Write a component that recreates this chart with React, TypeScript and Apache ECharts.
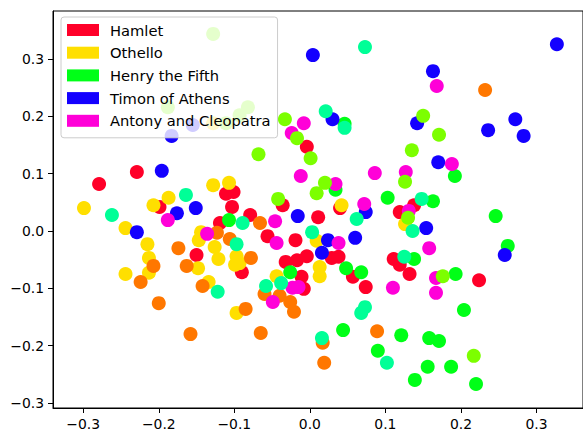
import React, { useEffect, useRef } from "react";
import * as echarts from "echarts";

// [x, y] data values
const hamlet: number[][] = [
  [-0.279, 0.082], [-0.229, 0.103], [-0.199, 0.042], [-0.111, 0.065], [-0.101, 0.068],
  [-0.103, 0.042], [-0.079, 0.028], [-0.119, 0.014], [-0.15, -0.042], [-0.09, -0.072],
  [-0.056, -0.009], [-0.019, -0.016], [-0.036, 0.045], [-0.004, 0.147], [0.011, 0.024],
  [0.04, 0.04], [-0.032, -0.054], [-0.017, -0.051], [-0.004, -0.044], [0.029, -0.047],
  [0.038, -0.045], [-0.011, -0.08], [0.057, -0.08], [0.074, -0.098], [0.111, -0.049],
  [0.119, -0.059], [0.132, -0.075], [0.119, 0.033], [0.138, 0.045], [0.224, -0.086],
  [-0.008, -0.101],
];
const othello: number[][] = [
  [-0.299, 0.04], [-0.244, 0.005], [-0.207, 0.045], [-0.187, 0.058], [-0.128, 0.08],
  [-0.107, 0.084], [-0.144, -0.002], [-0.147, -0.016], [-0.215, -0.023], [-0.213, -0.047],
  [-0.126, -0.028], [-0.121, -0.049], [-0.097, -0.044], [-0.093, -0.056], [-0.099, -0.059],
  [-0.244, -0.075], [-0.213, -0.073], [-0.148, -0.065], [-0.134, -0.089], [-0.097, -0.143],
  [-0.044, -0.079], [0.013, -0.063], [0.013, -0.079], [0.009, -0.017], [0.042, 0.045],
  [0.126, 0.012], [-0.128, 0.188],
];
const orangeGroup: number[][] = [
  [-0.066, 0.014], [-0.123, -0.003], [-0.106, -0.014], [-0.174, -0.03], [-0.078, -0.047],
  [-0.207, -0.061], [-0.163, -0.061], [-0.224, -0.089], [-0.142, -0.096], [-0.2, -0.126],
  [-0.085, -0.136], [-0.158, -0.18], [-0.065, -0.178], [-0.06, -0.11], [-0.04, -0.113],
  [-0.026, -0.124], [-0.021, -0.141], [0.017, -0.195], [0.019, -0.23], [0.089, -0.175],
  [0.232, 0.246],
];
const henry: number[][] = [
  [-0.107, 0.019], [0.034, 0.072], [0.046, 0.187], [0.103, 0.058], [0.163, 0.052],
  [0.192, 0.096], [0.246, 0.026], [0.262, -0.026], [0.138, -0.049], [0.193, -0.075],
  [-0.026, -0.072], [0.048, -0.065], [0.068, -0.072], [0.204, -0.138], [0.044, -0.173],
  [0.09, -0.209], [0.121, -0.182], [0.158, -0.187], [0.171, -0.192], [0.156, -0.237],
  [0.187, -0.237], [0.139, -0.26], [0.22, -0.267],
];
const timon: number[][] = [
  [-0.183, 0.166], [-0.155, 0.185], [-0.196, 0.105], [-0.176, 0.031], [-0.151, 0.04],
  [-0.229, -0.002], [-0.016, 0.026], [0.024, -0.016], [0.06, -0.012], [0.016, -0.038],
  [0.074, 0.033], [0.004, 0.307], [0.03, 0.195], [0.163, 0.279], [0.142, 0.188],
  [0.236, 0.176], [0.272, 0.195], [0.283, 0.166], [0.327, 0.326], [0.17, 0.12],
  [0.154, 0.005], [0.258, -0.042],
];
const antony: number[][] = [
  [-0.188, 0.019], [-0.136, -0.005], [-0.046, 0.017], [-0.044, -0.021], [0.038, -0.021],
  [0.072, 0.047], [-0.012, 0.096], [0.034, 0.082], [0.086, 0.101], [-0.008, 0.188],
  [-0.024, 0.171], [-0.049, -0.124], [-0.023, -0.099], [-0.015, -0.098], [0.11, -0.099],
  [0.127, 0.103], [0.168, 0.253], [0.188, 0.117], [0.131, 0.035], [0.158, -0.03],
  [0.167, -0.082], [0.167, -0.108],
];
const chartreuseGroup: number[][] = [
  [-0.128, 0.344], [-0.188, 0.216], [-0.111, 0.188], [-0.093, 0.202], [-0.082, 0.216],
  [-0.068, 0.134], [-0.033, 0.195], [-0.017, 0.162], [0.001, 0.127], [0.02, 0.084],
  [0.009, 0.066], [-0.042, 0.056], [0.15, 0.201], [0.171, 0.168], [0.135, 0.141],
  [0.126, 0.086], [0.13, 0.023], [0.176, -0.079], [0.217, -0.218],
];
const springGroup: number[][] = [
  [-0.262, 0.028], [-0.164, 0.063], [-0.089, 0.014], [-0.097, -0.023], [-0.122, -0.106],
  [-0.058, -0.096], [-0.038, -0.091], [0.003, -0.002], [0.062, 0.021], [0.021, 0.209],
  [0.046, 0.18], [0.073, 0.321], [0.148, 0.056], [0.136, 0.0], [0.125, -0.045],
  [0.016, -0.187], [0.068, -0.143], [0.073, -0.133], [0.102, -0.23],
];

const legendNames = ["Hamlet", "Othello", "Henry the Fifth", "Timon of Athens", "Antony and Cleopatra"];
const tickValues = [-0.3, -0.2, -0.1, 0.0, 0.1, 0.2, 0.3];

const fmt = (v: number) => {
  const r = Math.round(v * 10) / 10;
  return (r < 0 ? "\u2212" : "") + Math.abs(r).toFixed(1);
};

export default function App() {
  const ref = useRef<HTMLDivElement>(null);
  useEffect(() => {
    if (!ref.current) return;
    const chart = echarts.init(ref.current, null, { renderer: "svg" });
    const font = "DejaVu Sans";
    const mk = (name: string, data: number[][], color: string) => ({
      name,
      type: "scatter",
      data,
      symbol: "circle",
      symbolSize: 14,
      itemStyle: { color, opacity: 1 },
      emphasis: { disabled: true },
    });
    chart.setOption({
      animation: false,
      textStyle: { fontFamily: font },
      grid: {
        left: 53,
        top: 11,
        right: 0,
        bottom: 26,
        show: true,
        borderColor: "#000",
        borderWidth: 1,
        backgroundColor: "transparent",
      },
      xAxis: {
        type: "value",
        min: -0.34,
        max: 0.3616,
        splitLine: { show: false },
        axisLine: { show: true, onZero: false, lineStyle: { color: "#000", width: 1 } },
        axisTick: { show: true, length: 5, lineStyle: { color: "#000" }, customValues: tickValues },
        axisLabel: {
          color: "#000",
          fontSize: 13.9,
          fontFamily: font,
          margin: 9,
          customValues: tickValues,
          formatter: (v: number) => fmt(v),
        },
      },
      yAxis: {
        type: "value",
        min: -0.309,
        max: 0.384,
        splitLine: { show: false },
        axisLine: { show: true, onZero: false, lineStyle: { color: "#000", width: 1 } },
        axisTick: { show: true, length: 5, lineStyle: { color: "#000" }, customValues: tickValues },
        axisLabel: {
          color: "#000",
          fontSize: 13.9,
          fontFamily: font,
          margin: 9,
          customValues: tickValues,
          formatter: (v: number) => fmt(v),
        },
      },
      legend: {
        data: legendNames,
        orient: "vertical",
        left: 61,
        top: 17,
        icon: "rect",
        itemWidth: 32,
        itemHeight: 12,
        itemGap: 6.7,
        padding: [5, 7, 9, 6],
        backgroundColor: "rgba(255,255,255,0.8)",
        borderColor: "#cccccc",
        borderWidth: 1,
        borderRadius: 3,
        selectedMode: false,
        textStyle: {
          color: "#000",
          fontSize: 14.7,
          fontFamily: font,
          lineHeight: 16,
          padding: [0, 0, 0, 6],
        },
      },
      series: [
        mk("Hamlet", hamlet, "#ff0029"),
        mk("Othello", othello, "#ffdf00"),
        mk("orange", orangeGroup, "#ff7700"),
        mk("Henry the Fifth", henry, "#00ff17"),
        mk("Timon of Athens", timon, "#1400ff"),
        mk("Antony and Cleopatra", antony, "#ff00d8"),
        mk("chartreuse", chartreuseGroup, "#7cff00"),
        mk("spring", springGroup, "#00ff97"),
      ],
    });
    return () => chart.dispose();
  }, []);
  return (
    <div
      ref={ref}
      style={{ position: "absolute", left: 0, top: 0, width: 583, height: 434 }}
    />
  );
}
